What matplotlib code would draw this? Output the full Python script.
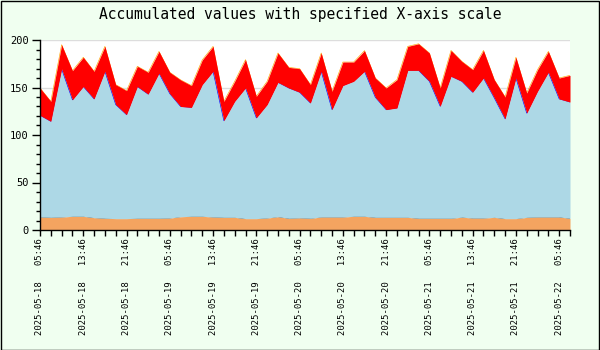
import matplotlib
matplotlib.use("Agg")
import matplotlib.pyplot as plt
import matplotlib.dates as mdates
from matplotlib.ticker import MultipleLocator
from matplotlib.patches import Rectangle
import pandas as pd

# Sample timestamps: one reading every two hours
start_time = "2025-05-18 05:46"
n_samples = 50
sample_step = "2h"
label_step = "8h"

# Series values (stacked from the bottom up)
base_vals = [13.7, 13.3, 13.7, 14.4, 14.4, 13.0, 12.3, 12.0, 12.0, 12.3,
             12.3, 12.3, 12.6, 14.0, 14.4, 14.4, 13.7, 13.3, 13.3, 12.0,
             12.0, 12.6, 14.0, 12.3, 12.8, 12.3, 13.7, 13.7, 13.7, 14.4,
             14.4, 13.3, 13.3, 13.3, 13.3, 12.3, 12.3, 12.3, 12.3, 13.5,
             12.6, 12.6, 13.3, 12.0, 12.0, 13.3, 13.7, 13.7, 13.7, 12.3]
middle_vals = [107.0, 101.1, 155.8, 122.6, 136.6, 125.0, 154.7, 120.0, 109.4, 138.7,
               130.7, 152.7, 130.9, 116.0, 114.6, 138.6, 153.3, 101.7, 122.1, 137.5,
               106.0, 119.4, 141.4, 137.2, 132.2, 121.4, 153.3, 113.0, 138.3, 142.1,
               152.6, 126.4, 113.4, 115.1, 154.7, 155.7, 144.2, 117.9, 149.5, 143.0,
               132.4, 147.4, 125.7, 105.0, 148.0, 109.7, 132.3, 152.3, 124.3, 122.4]
top_vals = [28.8, 21.0, 25.5, 30.7, 30.8, 29.0, 26.3, 21.0, 25.3, 21.3,
            23.0, 23.0, 22.5, 28.0, 23.0, 26.0, 26.3, 20.4, 21.1, 29.8,
            22.7, 24.5, 30.9, 21.7, 24.8, 19.3, 19.3, 19.3, 24.8, 20.3,
            21.8, 20.3, 22.8, 29.8, 25.3, 28.0, 29.8, 19.3, 27.2, 21.0,
            23.8, 29.0, 19.2, 23.0, 21.8, 21.2, 22.8, 22.0, 22.0, 28.1]

fill_colors = ["#F4A460", "#ADD8E6", "#FF0000"]
edge_colors = ["black", "blue", "orange"]

times = pd.date_range(start_time, periods=n_samples, freq=sample_step)

fig = plt.figure(figsize=(6, 3.5), dpi=100, facecolor="#F0FFF0")
ax = fig.add_axes([40 / 600, 120 / 350, 530 / 600, 190 / 350])
ax.set_facecolor("white")

# Accumulated layers; each edge line sits just beneath the next fill
lower = [0.0] * n_samples
for i, vals in enumerate([base_vals, middle_vals, top_vals]):
    upper = [a + b for a, b in zip(lower, vals)]
    ax.fill_between(times, lower, upper, color=fill_colors[i], linewidth=0,
                    zorder=2 + 2 * i)
    ax.plot(times, upper, color=edge_colors[i], linewidth=0.45,
            zorder=1.5 + 2 * i if i == 2 else 3 + 2 * i)
    lower = upper

# Y axis
ax.set_ylim(0, 200)
ax.yaxis.set_major_locator(MultipleLocator(50))
ax.yaxis.set_minor_locator(MultipleLocator(10))
ax.yaxis.grid(True, which="major", color="#DDDDDD", linewidth=1, zorder=1)
ax.set_axisbelow(True)

# X axis
ax.set_xlim(times[0], times[-1])
major_times = pd.date_range(times[0], times[-1], freq=label_step)
ax.set_xticks(major_times)
ax.set_xticks(times, minor=True)
ax.xaxis.set_major_formatter(mdates.DateFormatter("%Y-%m-%d   %H:%M"))

for lbl in ax.get_xticklabels():
    lbl.set_fontfamily("DejaVu Sans Mono")
    lbl.set_fontsize(6.4)
    lbl.set_rotation(90)
for lbl in ax.get_yticklabels():
    lbl.set_fontfamily("DejaVu Sans Mono")
    lbl.set_fontsize(7.5)

ax.tick_params(axis="both", which="major", direction="out", length=4,
               width=1, color="black", pad=2)
ax.tick_params(axis="both", which="minor", direction="out", length=4,
               width=1, color="black")
ax.tick_params(axis="y", which="major", length=6)
ax.tick_params(axis="y", which="minor", length=3)

for side in ["top", "right"]:
    ax.spines[side].set_visible(False)
for side in ["left", "bottom"]:
    ax.spines[side].set_linewidth(1)
    ax.spines[side].set_zorder(10)

fig.text(0.5, 1 - 15 / 350, "Accumulated values with specified X-axis scale",
         ha="center", va="center", family="DejaVu Sans Mono", fontsize=10.5)

# Outer frame
fig.patches.append(Rectangle((0.5 / 600, 0.5 / 350), 598 / 600, 348.5 / 350,
                             transform=fig.transFigure, fill=False,
                             edgecolor="black", linewidth=1))

fig.savefig("out.png", dpi=100, facecolor=fig.get_facecolor())
